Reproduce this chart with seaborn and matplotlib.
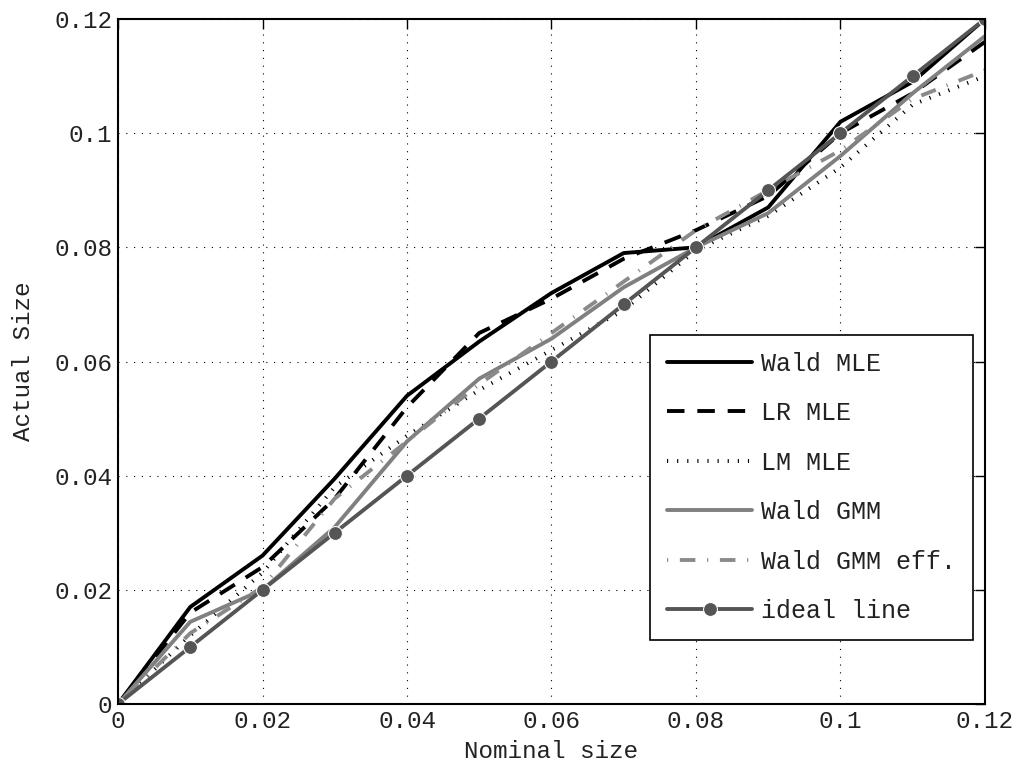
#!/usr/bin/env python3
"""actual vs nominal size of the tests, MATLAB-looking line chart"""

import numpy as np
import pandas as pd
import seaborn as sns
import matplotlib
matplotlib.use("Agg")
import matplotlib.pyplot as plt

## data ##
nominal = [0.0, 0.01, 0.02, 0.03, 0.04, 0.05, 0.06, 0.07, 0.08, 0.09, 0.10, 0.11, 0.12]
wald_mle = [0.0, 0.017, 0.026, 0.0395, 0.054, 0.0635, 0.072, 0.079, 0.080, 0.087, 0.102, 0.109, 0.120]
lr_mle = [0.0, 0.016, 0.024, 0.036, 0.052, 0.065, 0.071, 0.078, 0.083, 0.089, 0.100, 0.107, 0.116]
lm_mle = [0.0, 0.012, 0.023, 0.038, 0.047, 0.055, 0.062, 0.069, 0.0795, 0.0855, 0.094, 0.105, 0.110]
wald_gmm = [0.0, 0.0144, 0.020, 0.031, 0.046, 0.057, 0.064, 0.073, 0.080, 0.086, 0.096, 0.107, 0.117]
wald_gmm_eff = [0.0, 0.0124, 0.0205, 0.036, 0.046, 0.056, 0.065, 0.074, 0.083, 0.090, 0.097, 0.106, 0.111]
ideal = nominal

labels = ["Wald MLE", "LR MLE", "LM MLE", "Wald GMM", "Wald GMM eff.", "ideal line"]
xticks = [0, 0.02, 0.04, 0.06, 0.08, 0.1, 0.12]
ticklabels = ["0", "0.02", "0.04", "0.06", "0.08", "0.1", "0.12"]

sns.set_style("white")
plt.rcParams["font.family"] = ["Liberation Mono", "DejaVu Sans Mono"]
plt.rcParams["font.size"] = 17.5

fig = plt.figure(figsize=(10.21, 7.69), dpi=100)
ax = fig.add_axes([0.1156, 0.0845, 0.8491, 0.8908])

lw = 2.8
styles = [
    dict(color="black", linestyle="-"),
    dict(color="black", linestyle=(0, (4.5, 3.3))),
    dict(color="black", linestyle=(0, (0.3, 2.3)), dash_capstyle="butt"),
    dict(color="#808080", linestyle="-"),
    dict(color="#8a8a8a", linestyle=(0, (0.3, 3.0, 4.0, 3.0)), dash_capstyle="butt"),
    dict(color="#555555", linestyle="-", marker="o", markersize=10),
]
series = [wald_mle, lr_mle, lm_mle, wald_gmm, wald_gmm_eff, ideal]

for y, lab, st in zip(series, labels, styles):
    df = pd.DataFrame({"x": nominal, "y": y})
    sns.lineplot(data=df, x="x", y="y", ax=ax, label=lab, linewidth=lw,
                 estimator=None, sort=False, **st)

ax.set_xlim(0, 0.12)
ax.set_ylim(0, 0.12)
ax.set_xticks(xticks)
ax.set_xticklabels(ticklabels)
ax.set_yticks(xticks)
ax.set_yticklabels(ticklabels)
ax.set_xlabel("Nominal size", labelpad=5, color="#222222")
ax.set_ylabel("Actual Size", labelpad=14, color="#222222")

# dotted grid like the MATLAB one
ax.grid(True, color="black", linestyle=(0, (1, 6)), linewidth=0.8)
for sp in ax.spines.values():
    sp.set_color("black")
    sp.set_linewidth(1.5)
ax.tick_params(direction="in", length=7, width=1, top=True, right=True,
               colors="black", labelcolor="#222222", pad=4)

leg = ax.legend(loc="lower right", bbox_to_anchor=(0.986, 0.0934),
                frameon=True, fancybox=False, framealpha=1,
                edgecolor="black", handlelength=3.4, labelspacing=1.02,
                borderpad=0.68, handletextpad=0.35, borderaxespad=0,
                prop={"size": 18})
leg.get_frame().set_linewidth(1.2)
for t in leg.get_texts():
    t.set_color("#222222")

fig.savefig("out.png", dpi=100)
